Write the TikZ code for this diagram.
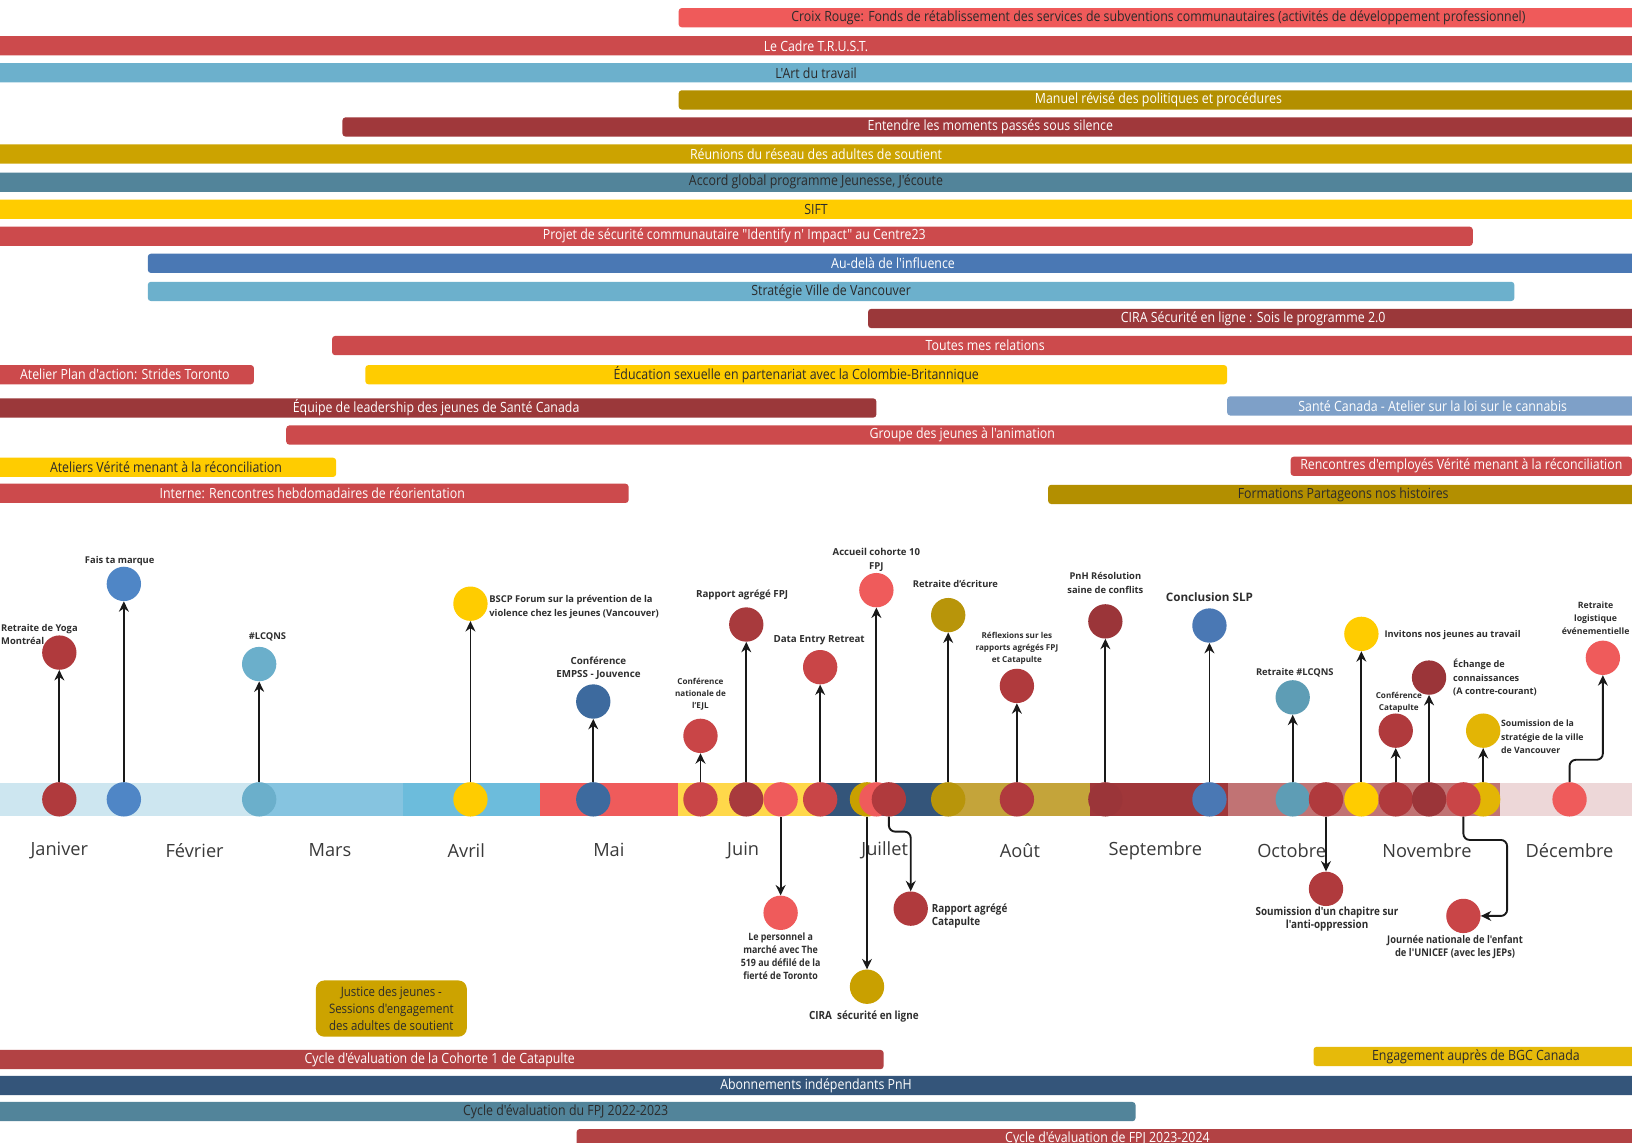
\documentclass[tikz,border=0pt]{standalone}
\usepackage{fontspec}
\setmainfont{Open Sans}
\newfontfamily\condf[FakeStretch=0.88]{Open Sans}
\usetikzlibrary{arrows.meta,calc}
\definecolor{cLred}{HTML}{EF5A5A}
\definecolor{cRed}{HTML}{CC4A4C}
\definecolor{cLblue}{HTML}{6CB0CC}
\definecolor{cDgold}{HTML}{B38F00}
\definecolor{cDred}{HTML}{A0383B}
\definecolor{cGoldb}{HTML}{CCA300}
\definecolor{cTealb}{HTML}{52849A}
\definecolor{cYel}{HTML}{FFCC00}
\definecolor{cBlueb}{HTML}{4A78B4}
\definecolor{cDred2}{HTML}{9B383A}
\definecolor{cPblue}{HTML}{7EA0C8}
\definecolor{cCat}{HTML}{B24244}
\definecolor{cBgc}{HTML}{E6BA0A}
\definecolor{cNavy}{HTML}{34557A}
\definecolor{txd}{HTML}{2B2B2B}
\definecolor{labc}{HTML}{2E2E2E}
\definecolor{monc}{HTML}{3A3A3A}
% event colours
\definecolor{cA}{HTML}{B03A3D}
\definecolor{cBlue}{HTML}{4F86C6}
\definecolor{cLCQ}{HTML}{6BAFCB}
\definecolor{cY}{HTML}{FFCC00}
\definecolor{cSteel}{HTML}{3D6A9E}
\definecolor{cR}{HTML}{C94547}
\definecolor{cDR}{HTML}{A83A3D}
\definecolor{cPink}{HTML}{EF5B5B}
\definecolor{cGold}{HTML}{C9A000}
\definecolor{cGold2}{HTML}{B8950A}
\definecolor{cDR2}{HTML}{9B3539}
\definecolor{cBlue2}{HTML}{4A78B4}
\definecolor{cTeal}{HTML}{5E9DB5}
\definecolor{cY2}{HTML}{E3B505}
% strip colours
\definecolor{s1}{HTML}{CDE6F0}
\definecolor{s2}{HTML}{86C4E0}
\definecolor{s3}{HTML}{6CBCDC}
\definecolor{s4}{HTML}{EF5B5B}
\definecolor{s5}{HTML}{FFD84A}
\definecolor{s6}{HTML}{34557A}
\definecolor{s7}{HTML}{C4A43A}
\definecolor{s8}{HTML}{A0373A}
\definecolor{s9}{HTML}{C17374}
\definecolor{s10}{HTML}{EDD7D8}
\newcommand{\tlbar}[7]{\node[tbar, fill=#5, text=#6, minimum width={(#3)-(#2)}] (#1) at ({((#2)+(#3))/2},#4) {#7};}
\begin{document}
\begin{tikzpicture}[x=1pt,y=-1pt,
 tbar/.style={rounded corners=3pt, minimum height=18.5pt, inner sep=0pt, font=\condf\fontsize{13.5}{13.5}\selectfont},
 dot/.style={circle, minimum size=33pt, inner sep=0pt},
 lab/.style={font=\bfseries\fontsize{9}{13}\selectfont, text=labc, align=center, inner sep=0pt},
 slab/.style={lab, font=\bfseries\fontsize{7.8}{11.5}\selectfont},
 clab/.style={lab, font=\condf\bfseries\fontsize{10.4}{12.5}\selectfont},
 month/.style={font=\fontsize{17.5}{20}\selectfont, text=monc, inner sep=0pt},
 arr/.style={draw=black!90, line width=1.8pt, -{Stealth[length=10pt,width=9.5pt]}}
]
\useasboundingbox (0,0) rectangle (1568,1098);
\fill[white] (0,0) rectangle (1568,1098);

% ---------------- top bars
\tlbar{t1}{652}{1574}{17}{cLred}{txd}{Croix Rouge: Fonds de rétablissement des services de subventions communautaires (activités de développement professionnel)}
\tlbar{t2}{-4}{1572}{44}{cRed}{white}{Le Cadre T.R.U.S.T.}
\tlbar{t3}{-4}{1572}{70}{cLblue}{txd}{L'Art du travail}
\tlbar{t4}{652}{1574}{96}{cDgold}{white}{Manuel révisé des politiques et procédures}
\tlbar{t5}{329}{1574}{122}{cDred}{white}{Entendre les moments passés sous silence}
\tlbar{t6}{-4}{1572}{148}{cGoldb}{white}{Réunions du réseau des adultes de soutient}
\tlbar{t7}{-4}{1572}{175}{cTealb}{txd}{Accord global programme Jeunesse, J'écoute}
\tlbar{t8}{-4}{1572}{201}{cYel}{txd}{SIFT}
\tlbar{t9}{-4}{1415}{227}{cRed}{white}{Projet de sécurité communautaire "Identify n' Impact" au Centre23}
\tlbar{t10}{142}{1574}{253}{cBlueb}{white}{Au-delà de l'influence}
\tlbar{t11}{142}{1455}{280}{cLblue}{txd}{Stratégie Ville de Vancouver}
\tlbar{t12}{834}{1574}{306}{cDred2}{white}{CIRA Sécurité en ligne : Sois le programme 2.0}
\tlbar{t13}{319}{1574}{332}{cRed}{white}{Toutes mes relations}
\tlbar{t14}{-4}{244}{360}{cRed}{white}{Atelier Plan d'action: Strides Toronto}
\tlbar{t15}{351}{1179}{360}{cYel}{txd}{Éducation sexuelle en partenariat avec la Colombie-Britannique}
\tlbar{t16}{-4}{842}{392}{cDred2}{white}{Équipe de leadership des jeunes de Santé Canada}
\tlbar{t17}{1179}{1574}{390}{cPblue}{white}{Santé Canada - Atelier sur la loi sur le cannabis}
\tlbar{t18}{275}{1574}{418}{cRed}{white}{Groupe des jeunes à l'animation}
\tlbar{t19}{-4}{323}{449}{cYel}{txd}{Ateliers Vérité menant à la réconciliation}
\tlbar{t20}{1240}{1568}{448}{cRed}{white}{Rencontres d'employés Vérité menant à la réconciliation}
\tlbar{t21}{-4}{604}{474}{cRed}{white}{Interne: Rencontres hebdomadaires de réorientation}
\tlbar{t22}{1007}{1574}{475}{cDgold}{txd}{Formations Partageons nos histoires}

% ---------------- timeline strip
\fill[s1] (0,752) rectangle (249,784);
\fill[s2] (249,752) rectangle (387,784);
\fill[s3] (387,752) rectangle (519,784);
\fill[s4] (519,752) rectangle (651,784);
\fill[s5] (651,752) rectangle (785,784);
\fill[s6] (785,752) rectangle (910,784);
\fill[s7] (910,752) rectangle (1047,784);
\fill[s8] (1047,752) rectangle (1180,784);
\fill[s9] (1180,752) rectangle (1441,784);
\fill[s10] (1441,752) rectangle (1568,784);

% ---------------- months
\node[month] (m1) at (57,817) {Janiver};
\node[month] (m2) at (187,817) {Février};
\node[month] (m3) at (317,817) {Mars};
\node[month] (m4) at (448,817) {Avril};
\node[month] (m5) at (585,817) {Mai};
\node[month] (m6) at (714,817) {Juin};
\node[month] (m7) at (850,817) {Juillet};
\node[month] (m8) at (980,817) {Août};
\node[month] (m9) at (1110,817) {Septembre};
\node[month] (m10) at (1241,817) {Octobre};
\node[month] (m11) at (1371,817) {Novembre};
\node[month] (m12) at (1508,817) {Décembre};

% ---------------- base circles
\node[dot, fill=cA] (b1) at (57,768) {};
\node[dot, fill=cBlue] (b2) at (119,768) {};
\node[dot, fill=cLCQ] (b3) at (249,768) {};
\node[dot, fill=cY] (b4) at (452,768) {};
\node[dot, fill=cSteel] (b5) at (570,768) {};
\node[dot, fill=cR] (b6) at (673,768) {};
\node[dot, fill=cDR] (b7) at (717,768) {};
\node[dot, fill=cPink] (b8) at (750,768) {};
\node[dot, fill=cR] (b9) at (788,768) {};
\node[dot, fill=cGold] (b10) at (833,768) {};
\node[dot, fill=cPink] (b11) at (842,768) {};
\node[dot, fill=cA] (b12) at (854,768) {};
\node[dot, fill=cGold2] (b13) at (911,768) {};
\node[dot, fill=cA] (b14) at (977,768) {};
\node[dot, fill=cDR2] (b15) at (1062,768) {};
\node[dot, fill=cBlue2] (b16) at (1162,768) {};
\node[dot, fill=cTeal] (b17) at (1242,768) {};
\node[dot, fill=cA] (b18) at (1274,768) {};
\node[dot, fill=cY] (b19) at (1308,768) {};
\node[dot, fill=cA] (b20) at (1341,768) {};
\node[dot, fill=cDR2] (b21) at (1373,768) {};
\node[dot, fill=cY2] (b23) at (1425,768) {};
\node[dot, fill=cR] (b22) at (1406,768) {};
\node[dot, fill=cPink] (b24) at (1508,768) {};

% ---------------- event circles
\node[dot, fill=cA] (e1) at (57,627) {};
\node[dot, fill=cBlue] (e2) at (119,561) {};
\node[dot, fill=cLCQ] (e3) at (249,638) {};
\node[dot, fill=cY] (e4) at (452,580) {};
\node[dot, fill=cSteel] (e5) at (570,674) {};
\node[dot, fill=cR] (e6) at (673,707) {};
\node[dot, fill=cDR] (e7) at (717,600) {};
\node[dot, fill=cPink] (e8) at (750,877) {};
\node[dot, fill=cR] (e9) at (788,641) {};
\node[dot, fill=cGold] (e10) at (833,948) {};
\node[dot, fill=cPink] (e11) at (842,567) {};
\node[dot, fill=cA] (e12) at (875,873) {};
\node[dot, fill=cGold2] (e13) at (911,591) {};
\node[dot, fill=cA] (e14) at (977,659) {};
\node[dot, fill=cDR2] (e15) at (1062,597) {};
\node[dot, fill=cBlue2] (e16) at (1162,601) {};
\node[dot, fill=cTeal] (e17) at (1242,670) {};
\node[dot, fill=cA] (e18) at (1274,854) {};
\node[dot, fill=cY] (e19) at (1308,609) {};
\node[dot, fill=cA] (e20) at (1341,702) {};
\node[dot, fill=cDR2] (e21) at (1373,651) {};
\node[dot, fill=cR] (e22) at (1406,880) {};
\node[dot, fill=cY2] (e23) at (1425,702) {};
\node[dot, fill=cPink] (e24) at (1540,632) {};

% ---------------- connectors
\coordinate (c12) at (875,799);
\coordinate (c22) at (1448,807);
\coordinate (c24) at (1540,730);
\foreach \i in {1,2,3,4,5,6,7,9,11,13,14,15,16,17,19,20,21,23}
  \draw[arr] (b\i) -- (e\i);
\draw[arr] (b8) -- (e8);
\draw[arr] (b10) -- (e10);
\draw[arr] (b18) -- (e18);
\draw[arr, rounded corners=6pt] (b12.south) |- (c12) -- (e12.north);
\draw[arr, rounded corners=6pt] (b22.south) |- (c22) |- (e22.east);
\draw[arr, rounded corners=6pt] (b24.north) |- (c24) -- (e24.south);

% ---------------- labels
\node[lab, align=left, anchor=west] (l1) at (1,609.5) {Retraite de Yoga\\Montréal};
\node[lab] (l2) at (115,539) {Fais ta marque};
\node[lab] (l3) at (257,612) {\#LCQNS};
\node[lab, align=left, anchor=west] (l4) at (470,583) {BSCP Forum sur la prévention de la\\violence chez les jeunes (Vancouver)};
\node[lab, font=\bfseries\fontsize{9.4}{12.5}\selectfont] (l5) at (575,642) {Conférence\\EMPSS - Jouvence};
\node[slab] (l6) at (673,667) {Conférence\\nationale de\\l'EJL};
\node[lab, font=\bfseries\fontsize{9.4}{13}\selectfont] (l7) at (713,572) {Rapport agrégé FPJ};
\node[clab, anchor=north, font=\condf\bfseries\fontsize{9.7}{12.4}\selectfont] (l8) at (750,896) {Le personnel a\\marché avec The\\519 au défilé de la\\fierté de Toronto};
\node[lab, font=\bfseries\fontsize{9.4}{13}\selectfont] (l9) at (787,615) {Data Entry Retreat};
\node[clab, font=\condf\bfseries\fontsize{10.8}{12.5}\selectfont] (l10) at (830,977) {CIRA\ \ sécurité en ligne};
\node[lab, font=\bfseries\fontsize{9.2}{14}\selectfont] (l11) at (842,538) {Accueil cohorte 10\\FPJ};
\node[clab, align=left, anchor=west, font=\condf\bfseries\fontsize{10.8}{13}\selectfont] (l12) at (895,880) {Rapport agrégé\\Catapulte};
\node[lab] (l13) at (918,561) {Retraite d'écriture};
\node[slab] (l14) at (977,623) {Réflexions sur les\\rapports agrégés FPJ\\et Catapulte};
\node[lab] (l15) at (1062,560) {PnH Résolution\\saine de conflits};
\node[lab, font=\bfseries\fontsize{11.2}{13}\selectfont] (l16) at (1162,574) {Conclusion SLP};
\node[lab] (l17) at (1244,646) {Retraite \#LCQNS};
\node[clab, font=\condf\bfseries\fontsize{10.8}{13}\selectfont] (l18) at (1275,883) {Soumission d'un chapitre sur\\l'anti-oppression};
\node[lab, anchor=west, font=\bfseries\fontsize{8.9}{13}\selectfont] (l19) at (1330,610) {Invitons nos jeunes au travail};
\node[slab] (l20) at (1344,675) {Conférence\\Catapulte};
\node[lab, align=left, anchor=west, font=\bfseries\fontsize{8.8}{13}\selectfont] (l21) at (1396,651) {Échange de\\connaissances\\(A contre-courant)};
\node[clab, font=\condf\bfseries\fontsize{10.2}{12.5}\selectfont] (l22) at (1398,910) {Journée nationale de l'enfant\\de l'UNICEF (avec les JEPs)};
\node[lab, align=left, anchor=west, font=\bfseries\fontsize{8.4}{13}\selectfont] (l23) at (1442,708) {Soumission de la\\stratégie de la ville\\de Vancouver};
\node[lab, font=\bfseries\fontsize{8.4}{12.5}\selectfont] (l24) at (1533,594) {Retraite\\logistique\\événementielle};

% ---------------- bottom
\node[fill=cGoldb, rounded corners=8pt, minimum width=145pt, minimum height=54pt, inner sep=0pt, align=center, font=\condf\fontsize{12.5}{16.5}\selectfont, text=txd] (jj) at (376,969) {Justice des jeunes -\\Sessions d'engagement\\des adultes de soutient};
\tlbar{u1}{-4}{849}{1018}{cCat}{white}{Cycle d'évaluation de la Cohorte 1 de Catapulte}
\tlbar{u2}{1262}{1574}{1015}{cBgc}{txd}{Engagement auprès de BGC Canada}
\tlbar{u3}{-4}{1572}{1043}{cNavy}{white}{Abonnements indépendants PnH}
\tlbar{u4}{-4}{1091}{1068}{cTealb}{txd}{Cycle d'évaluation du FPJ 2022-2023}
\tlbar{u5}{554}{1574}{1094}{cCat}{white}{Cycle d'évaluation de FPJ 2023-2024}
\end{tikzpicture}
\end{document}
